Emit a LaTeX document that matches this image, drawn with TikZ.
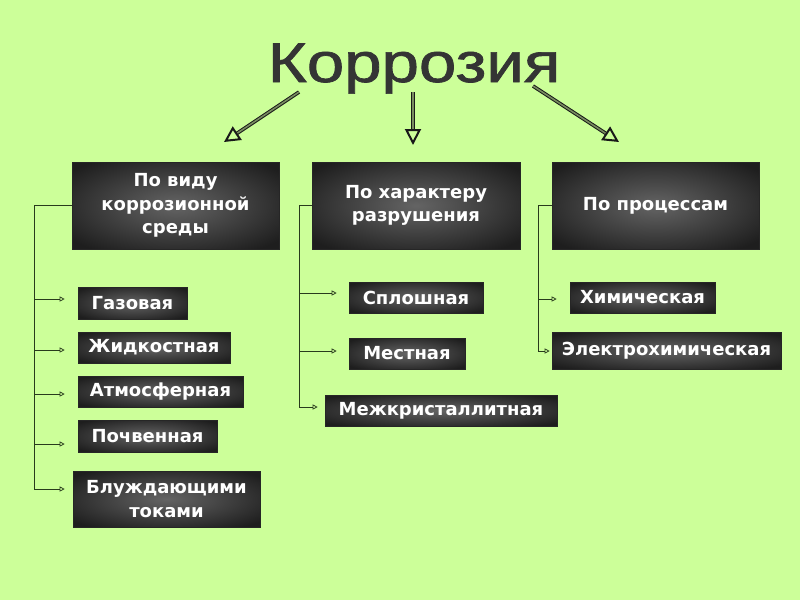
\documentclass[tikz,border=0pt]{standalone}
\usepackage{fontspec}
\setmainfont{DejaVu Sans}
\newfontfamily\titlefont[FakeBold=1.2]{Liberation Sans}
\usetikzlibrary{arrows.meta}
\definecolor{bg}{RGB}{204,255,153}
\definecolor{boxin}{RGB}{100,100,100}
\definecolor{boxout}{RGB}{30,30,30}
\definecolor{conncol}{RGB}{40,58,28}
\definecolor{titlecol}{RGB}{52,52,52}
\definecolor{shaftin}{RGB}{120,140,95}
\pgfdeclareradialshading{boxshade}{\pgfpoint{0bp}{0bp}}{color(0bp)=(boxin); color(32bp)=(boxout); color(50bp)=(boxout)}
\tikzset{
  box/.style={shading=boxshade, draw=black!85, line width=0.6pt, inner sep=0pt, text=white,
    font=\bfseries\fontsize{18}{23.5}\selectfont, align=center},
  conn/.style={draw=conncol, line width=0.9pt},
  arr/.style={conn, -{Triangle[open, length=5pt, width=5pt, line width=0.7pt]}},
  bigarrow/.style={draw=black!90, line width=1pt, double=shaftin, double distance=1.6pt,
    -{Triangle[open, length=16pt, width=16pt, line width=2pt, fill=bg]}}
}
\begin{document}
\begin{tikzpicture}[x=1pt,y=-1pt]
\fill[bg] (0,0) rectangle (800,600);
\useasboundingbox (0,0) rectangle (800,600);

\node[font=\titlefont\fontsize{56}{56}\selectfont, text=titlecol, anchor=base, inner sep=0pt, xscale=1.2] (title) at (414,82) {Коррозия};

% top boxes
\node[box, minimum width=207pt, minimum height=87pt] (b1) at (175.5,205.5) {По виду\\коррозионной\\среды};
\node[box, minimum width=208pt, minimum height=87pt] (b2) at (416,205.5) {По характеру\\разрушения};
\node[box, minimum width=207pt, minimum height=87pt] (b3) at (655.5,205.5) {По процессам};

% big arrows
\coordinate (a1s) at (299,92); \coordinate (a1e) at (224,142);
\coordinate (a2s) at (413,92); \coordinate (a2e) at (413,145);
\coordinate (a3s) at (533,86); \coordinate (a3e) at (619,142);
\draw[bigarrow] (a1s) -- (a1e);
\draw[bigarrow] (a2s) -- (a2e);
\draw[bigarrow] (a3s) -- (a3e);

% column 1 boxes
\node[box, minimum width=109pt, minimum height=32pt] (g1) at (132.5,303) {Газовая};
\node[box, minimum width=152pt, minimum height=31pt] (g2) at (154,347.5) {Жидкостная};
\node[box, minimum width=165pt, minimum height=31pt] (g3) at (160.5,391.5) {Атмосферная};
\node[box, minimum width=139pt, minimum height=32pt] (g4) at (147.5,436) {Почвенная};
\node[box, minimum width=187pt, minimum height=56pt] (g5) at (166.5,499) {Блуждающими\\токами};

% column 2 boxes
\node[box, minimum width=134pt, minimum height=31pt] (h1) at (416,297.5) {Сплошная};
\node[box, minimum width=116pt, minimum height=31pt] (h2) at (407,353.5) {Местная};
\node[box, minimum width=232pt, minimum height=31pt] (h3) at (441,410.5) {Межкристаллитная};

% column 3 boxes
\node[box, minimum width=145pt, minimum height=31pt] (k1) at (642.5,297.5) {Химическая};
\node[box, minimum width=229pt, minimum height=37pt] (k2) at (666.5,350.5) {Электрохимическая};

% trunk points
\coordinate (t11) at (34,299); \coordinate (t12) at (34,350); \coordinate (t13) at (34,394);
\coordinate (t14) at (34,444); \coordinate (t15) at (34,489);
\coordinate (t21) at (299,293); \coordinate (t22) at (299,351); \coordinate (t23) at (299,407);
\coordinate (t31) at (538,299); \coordinate (t32) at (538,351);

\draw[conn] (b1.west) -| (t15);
\draw[conn] (b2.west) -| (t23);
\draw[conn] (b3.west) -| (t32);

\draw[arr, shorten >=13pt] (t11) -- (t11 -| g1.west);
\draw[arr, shorten >=13pt] (t12) -- (t12 -| g2.west);
\draw[arr, shorten >=13pt] (t13) -- (t13 -| g3.west);
\draw[arr, shorten >=13pt] (t14) -- (t14 -| g4.west);
\draw[arr, shorten >=8pt] (t15) -- (t15 -| g5.west);

\draw[arr, shorten >=12pt] (t21) -- (t21 -| h1.west);
\draw[arr, shorten >=12pt] (t22) -- (t22 -| h2.west);
\draw[arr, shorten >=7pt] (t23) -- (t23 -| h3.west);

\draw[arr, shorten >=13pt] (t31) -- (t31 -| k1.west);
\draw[arr, shorten >=2pt] (t32) -- (t32 -| k2.west);
\end{tikzpicture}
\end{document}
